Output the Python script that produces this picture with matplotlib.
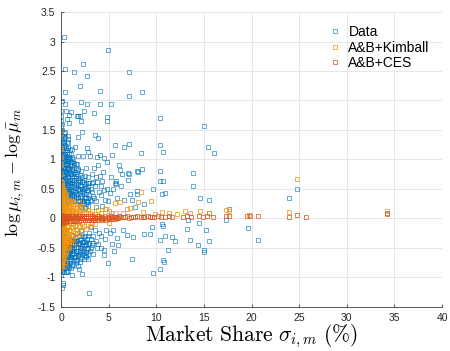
import matplotlib
matplotlib.use("Agg")
import matplotlib.pyplot as plt
import numpy as np

plt.rcParams['mathtext.fontset'] = 'cm'
plt.rcParams['font.family'] = ['Liberation Sans', 'DejaVu Sans']

# ---------------- data ----------------
# Data series: dense bar at near-zero market share (x, list of y)
data_bar_x = [0.03, 0.12, 0.22]
data_bar_y = [
    [-0.95, -0.88, -0.8, -0.72, -0.65, -0.58, -0.5, -0.43, -0.36, -0.28, -0.2, -0.12, -0.05,
     0.05, 0.12, 0.2, 0.27, 0.35, 0.42, 0.5, 0.57, 0.64, 0.72, 0.8, 0.87, 0.95, 1.02, 1.1,
     1.18, 1.25, 1.33, 1.4, 1.48, 1.56, 1.65, 1.74, 1.83],
    [-0.9, -0.82, -0.74, -0.66, -0.58, -0.5, -0.42, -0.34, -0.26, -0.18, -0.1, 0.1, 0.18, 0.26,
     0.34, 0.42, 0.5, 0.58, 0.66, 0.74, 0.82, 0.9, 0.98, 1.06, 1.14, 1.22, 1.3, 1.4, 1.5, 1.6],
    [-0.85, -0.75, -0.65, -0.55, -0.45, -0.35, -0.25, -0.15, 0.15, 0.25, 0.35, 0.45, 0.55, 0.65,
     0.75, 0.85, 0.95, 1.05, 1.15, 1.28, 1.4],
]
# Data series: fan of points for shares 0.3-6 %
data_fan = [
    (0.36, -0.82), (0.33, -0.7), (0.38, -0.58), (0.34, -0.46), (0.37, -0.34), (0.32, -0.22),
    (0.35, 0.2), (0.38, 0.32), (0.33, 0.44), (0.36, 0.56), (0.39, 0.68), (0.34, 0.8),
    (0.37, 0.92), (0.33, 1.04), (0.38, 1.16), (0.35, 1.3),
    (0.5, -0.78), (0.47, -0.64), (0.53, -0.5), (0.49, -0.36), (0.52, -0.24), (0.48, 0.22),
    (0.54, 0.36), (0.5, 0.5), (0.46, 0.64), (0.53, 0.78), (0.49, 0.92), (0.55, 1.06), (0.51, 1.2),
    (0.66, -0.8), (0.63, -0.62), (0.68, -0.46), (0.64, -0.32), (0.67, 0.28), (0.62, 0.42),
    (0.69, 0.56), (0.65, 0.7), (0.61, 0.84), (0.68, 0.98), (0.64, 1.12),
    (0.8, -0.72), (0.83, -0.55), (0.78, -0.38), (0.82, 0.3), (0.79, 0.46), (0.84, 0.62),
    (0.8, 0.78), (0.77, 0.94), (0.83, 1.1),
    (0.95, -0.75), (0.98, -0.6), (0.93, -0.42), (0.97, 0.35), (0.94, 0.5), (0.99, 0.66),
    (0.96, 0.82), (0.92, 1.0),
    (1.1, -0.7), (1.13, -0.52), (1.08, -0.36), (1.12, 0.38), (1.07, 0.55), (1.14, 0.72), (1.1, 0.9),
    (1.3, -0.78), (1.27, -0.6), (1.33, -0.45), (1.29, -0.3), (1.32, 0.32), (1.26, 0.48),
    (1.34, 0.65), (1.3, 0.82), (1.28, 1.0),
    (1.5, -0.65), (1.53, -0.48), (1.47, -0.33), (1.52, 0.3), (1.48, 0.45), (1.54, 0.6), (1.5, 0.78),
    (1.7, -0.72), (1.67, -0.55), (1.73, -0.38), (1.69, -0.25), (1.72, 0.25), (1.66, 0.42),
    (1.74, 0.58), (1.7, 0.75), (1.68, 0.92),
    (1.9, -0.6), (1.93, -0.42), (1.88, -0.3), (1.92, 0.3), (1.87, 0.5), (1.94, 0.68),
    (2.1, -0.68), (2.13, -0.5), (2.07, -0.35), (2.12, -0.2), (2.08, 0.2), (2.14, 0.38),
    (2.1, 0.55), (2.06, 0.8),
    (2.3, -0.55), (2.34, -0.4), (2.28, 0.25), (2.32, 0.45), (2.27, 0.62),
    (2.5, -0.62), (2.53, -0.45), (2.47, -0.3), (2.52, 0.18), (2.48, 0.35), (2.54, 0.52), (2.5, 0.72),
    (2.7, -0.5), (2.74, -0.35), (2.68, 0.3), (2.72, 0.48), (2.66, 0.85),
    (2.9, -0.42), (2.94, -0.25), (2.88, 0.22), (2.92, 0.4), (2.96, 0.6),
    (3.3, 0.75), (3.6, 0.55), (4.0, 0.45), (3.2, 0.45), (4.4, 0.78), (3.9, 0.9), (3.5, 0.85),
    (4.8, 0.5), (3.7, 0.2), (4.3, 0.22), (4.0, -0.25), (3.4, -0.3), (4.7, -0.2), (3.1, -0.15),
    (3.2, 0.6), (3.5, 0.35), (3.8, 0.62), (4.1, 0.72), (4.5, 0.48), (4.9, 0.3), (5.2, 0.7),
    (5.5, 0.5), (5.9, 0.35), (6.3, 0.55), (3.3, -0.45), (3.6, -0.2), (4.2, -0.5),
    (4.6, -0.35), (5.1, -0.25), (5.6, -0.55), (6.0, -0.45), (6.5, -0.2),
]
# Data series: extra fill of the fan (x, list of y)
data_fill_x = [0.28, 0.43, 0.58, 0.73, 0.88, 1.03, 1.2, 1.4, 1.6, 1.8, 2.0, 2.2, 2.4, 2.6,
               2.8, 3.1, 3.4, 3.7, 4.2,
               0.31, 0.46, 0.61, 0.76, 0.91, 1.16, 1.35, 1.56, 1.75, 1.97, 2.18, 2.44, 2.65,
               2.85]
data_fill_y = [
    [-0.78, -0.62, -0.48, -0.3, 0.28, 0.5, 0.72, 0.98, 1.22, 1.45],
    [-0.74, -0.52, -0.4, 0.28, 0.5, 0.74, 0.86, 1.1, 1.38],
    [-0.7, -0.56, -0.4, 0.3, 0.46, 0.6, 0.86, 1.0, 1.3],
    [-0.66, -0.52, 0.36, 0.5, 0.64, 0.9, 1.05, 1.2],
    [-0.82, -0.64, -0.48, 0.38, 0.54, 0.7, 0.86, 1.02],
    [-0.84, -0.66, -0.5, 0.3, 0.46, 0.6, 0.76, 0.95, 1.1],
    [-0.62, -0.44, 0.3, 0.46, 0.62, 0.8, 0.96],
    [-0.7, -0.55, -0.38, 0.36, 0.55, 0.7, 0.9],
    [-0.76, -0.58, -0.42, 0.36, 0.52, 0.68, 0.86],
    [-0.64, -0.48, 0.34, 0.48, 0.62, 0.82],
    [-0.74, -0.56, -0.42, 0.3, 0.46, 0.64],
    [-0.6, -0.45, -0.3, 0.3, 0.5, 0.7],
    [-0.68, -0.5, -0.32, 0.3, 0.42, 0.58],
    [-0.56, -0.4, 0.25, 0.42, 0.6],
    [-0.6, -0.44, -0.3, 0.35, 0.55, 0.7],
    [-0.5, -0.35, 0.3, 0.5],
    [-0.6, -0.42, 0.38, 0.62],
    [-0.38, 0.3, 0.7],
    [-0.3, 0.4, 0.55],
    [-0.9, -0.56, -0.4, 0.36, 0.6, 0.84, 1.1, 1.36],
    [-0.84, -0.58, -0.3, 0.4, 0.58, 0.8, 1.0, 1.24, 1.46],
    [-0.9, -0.75, -0.52, 0.36, 0.52, 0.76, 0.92, 1.16],
    [-0.78, -0.6, -0.44, 0.4, 0.56, 0.72, 0.84, 1.0, 1.28],
    [-0.68, -0.52, -0.36, 0.44, 0.6, 0.76, 0.92, 1.16],
    [-0.8, -0.58, -0.42, 0.42, 0.66, 0.84, 1.04, 1.18],
    [-0.66, -0.5, -0.36, 0.4, 0.58, 0.76, 0.94],
    [-0.7, -0.55, -0.38, 0.4, 0.56, 0.72, 0.92],
    [-0.62, -0.44, 0.3, 0.5, 0.66, 0.84],
    [-0.66, -0.5, -0.36, 0.36, 0.56, 0.74],
    [-0.54, -0.4, 0.34, 0.46, 0.62],
    [-0.58, -0.4, 0.26, 0.5, 0.66],
    [-0.66, -0.44, 0.36, 0.52],
    [-0.52, 0.28, 0.48],
]
# Data series: scattered points
data_sparse = [
    (0.35, 3.08), (4.9, 2.85), (0.42, 2.54), (2.28, 2.62), (1.37, 2.48), (2.73, 2.41),
    (7.1, 2.48), (2.03, 2.24), (0.42, 2.14), (4.1, 2.16), (8.47, 2.14), (7.1, 2.07),
    (2.05, 1.98), (2.75, 1.94), (4.1, 1.94), (5.25, 1.94), (0.1, 1.99), (0.42, 1.94),
    (0.56, 1.82), (1.1, 1.81), (2.4, 1.83), (3.47, 1.78), (1.65, 1.73), (1.8, 1.73),
    (1.95, 1.73), (0.87, 1.75), (0.6, 1.69), (0.85, 1.62), (4.85, 1.72), (4.8, 1.66),
    (10.37, 1.7), (2.1, 1.65), (15.0, 1.56), (2.17, 1.46), (1.82, 1.38), (3.57, 1.42),
    (3.85, 1.37), (0.77, 1.4), (0.77, 1.34), (5.67, 1.25), (6.62, 1.21), (7.12, 1.26),
    (10.35, 1.25), (10.72, 1.12), (8.44, 1.11), (15.4, 1.21), (16.07, 1.11), (1.45, 1.21),
    (2.77, 1.2), (2.87, 1.13), (1.75, 1.06), (2.3, 1.06), (3.05, 1.06), (3.75, 1.05),
    (4.1, 1.08), (4.5, 1.03), (5.32, 1.07), (4.87, 0.95), (6.1, 0.9), (6.2, 0.82),
    (7.07, 0.77), (7.95, 0.8), (8.47, 0.84), (10.44, 0.8), (13.85, 0.77),
    (6.37, 0.76), (7.14, 0.75), (8.05, 0.78), (5.67, 0.6), (4.27, 0.64), (2.87, 0.6),
    (7.25, 0.42), (7.95, 0.42), (9.7, 0.5), (10.9, 0.44), (3.05, 0.32), (7.0, 0.66),
    (5.77, 0.59), (8.0, 0.46), (8.75, 0.24), (7.77, 0.2), (6.6, 0.32), (7.4, 0.32),
    (4.6, 0.32), (5.15, 0.44), (14.6, 0.35), (15.5, 0.32), (13.83, 0.55), (10.75, 0.64),
    (5.8, 0.64), (10.4, 0.64), (10.6, 0.42), (23.95, 0.35), (24.75, 0.5), (17.65, 0.16),
    (17.3, -0.03), (15.5, 0.1), (14.5, -0.07), (13.3, -0.03), (10.57, -0.1), (10.7, -0.13),
    (13.2, -0.17), (15.2, -0.2), (19.6, -0.16), (10.9, -0.3), (11.6, -0.32), (12.0, -0.38),
    (13.55, -0.36), (15.5, -0.38), (20.66, -0.37), (14.4, -0.45), (15.0, -0.53),
    (15.0, -0.57), (11.2, -0.53), (10.75, -0.71), (10.8, -0.74), (10.4, -0.85), (34.2, 0.1),
    (8.75, -0.26), (9.3, -0.27), (9.5, -0.15), (10.4, -0.36), (9.63, -0.93), (7.5, -0.69),
    (4.9, -0.75), (2.98, -1.26), (5.5, -0.2), (5.85, -0.33), (6.9, -0.28), (7.6, -0.31),
    (5.3, -0.44), (3.85, -0.44), (3.75, -0.5), (4.5, -0.53), (3.05, -0.55), (2.6, -0.64),
    (4.55, -0.62), (2.87, -0.69), (1.82, -0.81), (1.12, -0.95), (2.17, -0.94), (1.9, -0.86),
    (0.25, -1.09), (0.14, -1.18), (0.77, -0.89), (0.6, -0.81), (0.5, -0.9), (0.2, -1.13),
]

# A&B+Kimball series: dense part (x, list of y)
kim_bar_x = [0.02, 0.06, 0.1, 0.15, 0.2, 0.27, 0.42, 0.57, 0.72, 0.88, 1.08, 1.3, 1.55,
             1.85, 2.2, 2.6, 3.0, 3.6, 4.2, 5.0, 5.8]
kim_bar_y = [
    [-0.85, -0.78, -0.7, -0.62, -0.55, -0.48, -0.41, -0.34, -0.27, -0.2, -0.13, -0.07, 0.07,
     0.13, 0.2, 0.27, 0.34, 0.41, 0.48, 0.55, 0.62, 0.75, 0.9, 1.05, 1.2, 1.45],
    [-0.8, -0.66, -0.52, -0.38, -0.24, -0.1, 0.1, 0.24, 0.38, 0.5],
    [-0.78, -0.72, -0.62, -0.52, -0.42, -0.32, -0.22, -0.12, 0.12, 0.22, 0.32, 0.42, 0.52, 0.6],
    [-0.75, -0.6, -0.46, -0.3, -0.16, 0.16, 0.3, 0.46, 0.56],
    [-0.7, -0.58, -0.46, -0.34, -0.22, -0.1, 0.1, 0.22, 0.34, 0.46],
    [-0.66, -0.52, -0.4, -0.28, -0.16, 0.16, 0.28, 0.4, 0.5],
    [-0.6, -0.46, -0.34, -0.2, -0.08, 0.08, 0.2, 0.34, 0.44],
    [-0.56, -0.44, -0.32, -0.2, -0.08, 0.08, 0.2, 0.34, 0.42],
    [-0.5, -0.38, -0.26, -0.12, 0.1, 0.2, 0.32],
    [-0.46, -0.32, -0.2, -0.08, 0.08, 0.18, 0.3],
    [-0.4, -0.28, -0.15, 0.08, 0.18, 0.28],
    [-0.36, -0.22, -0.1, 0.08, 0.18, 0.3],
    [-0.3, -0.18, 0.08, 0.18],
    [-0.28, -0.12, 0.08, 0.16, 0.28],
    [-0.22, -0.1, 0.08, 0.18],
    [-0.18, 0.1, 0.2],
    [-0.12, 0.1],
    [-0.1, 0.08],
    [0.1],
    [0.12, -0.08],
    [0.1],
]
kim_pts = [
    (0.35, -0.62), (0.33, -0.5), (0.37, -0.38), (0.34, -0.26), (0.36, -0.14), (0.35, 0.14),
    (0.33, 0.26), (0.37, 0.38), (0.3, -0.8), (0.45, -0.74),
    (0.5, -0.55), (0.48, -0.42), (0.52, -0.3), (0.5, -0.17), (0.49, 0.17), (0.52, 0.3),
    (0.65, -0.5), (0.63, -0.36), (0.67, -0.22), (0.65, 0.12), (0.63, 0.25),
    (0.8, -0.4), (0.82, -0.27), (0.78, -0.14), (0.8, 0.12), (0.83, 0.22),
    (1.0, -0.35), (0.97, -0.22), (1.02, 0.1), (0.98, 0.2), (1.01, 0.3),
    (1.2, -0.28), (1.22, -0.15), (1.18, 0.12), (1.21, 0.22),
    (1.45, -0.25), (1.43, -0.12), (1.47, 0.1), (1.44, 0.25),
    (1.7, -0.2), (1.72, 0.12), (1.68, 0.2), (2.0, -0.15), (2.03, 0.1), (1.98, 0.22),
    (2.4, -0.12), (2.38, 0.1), (2.8, -0.1), (2.82, 0.15), (3.2, 0.12), (3.25, -0.08),
    (3.9, 0.15), (4.6, 0.16), (5.67, 0.27), (6.2, 0.28), (8.4, 0.45), (8.05, 0.28),
    (9.4, 0.3), (6.9, 0.16), (7.25, 0.18), (4.7, 0.16), (8.65, 0.11), (10.6, 0.11),
    (11.3, 0.1), (13.5, 0.1), (14.6, 0.12), (15.5, 0.1), (13.0, 0.12), (12.2, 0.08),
    (17.6, 0.12), (17.3, 0.15), (19.7, 0.06), (23.95, 0.11), (24.75, 0.67), (34.2, 0.12),
    (9.9, 0.08), (5.2, 0.1), (6.5, 0.1),
]

# A&B+CES series
ces_x = [0.02, 0.08, 0.15, 0.22, 0.3, 0.4, 0.5, 0.6, 0.72, 0.85, 1.0, 1.15, 1.3, 1.45, 1.6,
         1.8, 2.0, 2.2, 2.4, 2.6, 2.8, 3.0, 3.25, 3.5, 3.75, 4.0, 4.3, 4.6, 4.9, 5.2, 5.5, 5.8,
         6.1, 6.5, 6.9, 7.3, 7.6, 8.0, 8.4, 8.7, 9.1, 9.5, 9.8, 10.2, 10.5, 10.9, 11.3, 11.7,
         12.8, 13.2, 13.6, 14.5, 14.9, 15.3, 16.0, 17.3, 17.6, 19.5, 19.8, 20.7, 23.95, 24.75,
         25.67, 34.2]
ces_y_hi = [0.05, 0.06, 0.05, 0.05, 0.05, 0.04, 0.05, 0.04, 0.04, 0.05, 0.04, 0.04, 0.05, 0.04,
            0.04, 0.05, 0.04, 0.04, 0.04, 0.05, 0.04, 0.04, 0.04, 0.03, 0.04, 0.04, 0.03, 0.04,
            0.03, 0.04, 0.03, 0.03, 0.04, 0.03, 0.04, 0.03, 0.03, 0.04, 0.03, 0.03, 0.04, 0.03,
            0.02, 0.04, 0.03, 0.03, 0.04, 0.03, 0.03, 0.04, 0.03, 0.04, 0.03, 0.04, 0.03, 0.05,
            0.04, 0.05, 0.05, 0.04, 0.02, 0.06, 0.02, 0.08]
ces_x_mid = [0.05, 0.13, 0.19, 0.27, 0.36, 0.46, 0.57, 0.68, 0.78, 0.92, 1.05, 1.2, 1.35,
             1.5, 1.65, 1.85, 2.05, 2.25, 2.45, 2.65, 2.85, 3.05, 3.3, 3.55, 3.8, 4.05, 4.35,
             4.65, 4.95, 5.25, 5.55, 5.85, 6.2, 6.7, 7.1, 7.8, 8.6, 9.3]
ces_y_mid = [0.0, 0.01, 0.0, -0.01, 0.0, 0.01, 0.0, 0.0, 0.01, 0.0, 0.0, 0.01, 0.0, 0.01,
             0.0, 0.01, 0.0, 0.01, 0.01, 0.0, 0.01, 0.01, 0.0, 0.01, 0.01, 0.01, 0.0, 0.01,
             0.01, 0.01, 0.02, 0.01, 0.02, 0.02, 0.01, 0.02, 0.02, 0.02]
ces_x_lo = [0.03, 0.1, 0.18, 0.26, 0.35, 0.45, 0.55, 0.66, 0.8, 0.95, 1.1, 1.25, 1.4, 1.55,
            1.7, 1.9, 2.1, 2.3, 2.5, 2.7, 2.9, 3.1, 3.4, 3.6, 3.9, 4.15, 4.45, 4.75, 5.05,
            5.35, 5.65, 5.95]
ces_y_lo = [-0.07, -0.06, -0.07, -0.06, -0.05, -0.06, -0.05, -0.05, -0.04, -0.05, -0.04,
            -0.04, -0.04, -0.04, -0.03, -0.04, -0.03, -0.03, -0.03, -0.03, -0.02, -0.03,
            -0.02, -0.02, -0.02, -0.02, -0.01, -0.02, -0.01, -0.01, -0.01, 0.0]

xticks = [0, 5, 10, 15, 20, 25, 30, 35, 40]
yticks = [-1.5, -1, -0.5, 0, 0.5, 1, 1.5, 2, 2.5, 3, 3.5]
ytick_labels = ['-1.5', '-1', '-0.5', '0', '0.5', '1', '1.5', '2', '2.5', '3', '3.5']
legend_labels = ['Data', 'A&B+Kimball', 'A&B+CES']

# ---------------- assemble ----------------
def expand(xs, yss):
    px = [x for x, ys in zip(xs, yss) for _ in ys]
    py = [y for ys in yss for y in ys]
    return px, py

dx, dy = expand(data_bar_x, data_bar_y)
fx, fy = expand(data_fill_x, data_fill_y)
dx += fx + [p[0] for p in data_fan + data_sparse]
dy += fy + [p[1] for p in data_fan + data_sparse]

kx, ky = expand(kim_bar_x, kim_bar_y)
kx += [p[0] for p in kim_pts]
ky += [p[1] for p in kim_pts]

cx = ces_x + ces_x_mid + ces_x_lo
cy = ces_y_hi + ces_y_mid + ces_y_lo

c_data = (0.0, 0.447, 0.741, 0.7)
c_kim = (0.95, 0.58, 0.05, 0.85)
c_ces = (0.85, 0.33, 0.10, 0.85)

fig = plt.figure(figsize=(4.5, 3.51), dpi=100)
ax = fig.add_axes([0.1356, 0.1254, 0.8467, 0.8404])

ms = 3.0
mew = 0.6
h1, = ax.plot(dx, dy, 's', ms=ms, mfc='none', mec=c_data, mew=mew, label=legend_labels[0])
h2, = ax.plot(kx, ky, 's', ms=ms, mfc='none', mec=c_kim, mew=mew, label=legend_labels[1])
h3, = ax.plot(cx, cy, 's', ms=ms, mfc='none', mec=c_ces, mew=mew, label=legend_labels[2])

ax.set_xlim(0, 40)
ax.set_ylim(-1.5, 3.5)
ax.set_xticks(xticks)
ax.set_yticks(yticks)
ax.set_yticklabels(ytick_labels)
ax.grid(True, color='#e3e3e3', linewidth=0.6)
ax.set_axisbelow(True)
for s in ['top', 'right']:
    ax.spines[s].set_visible(False)
for s in ['left', 'bottom']:
    ax.spines[s].set_color('#404040')
    ax.spines[s].set_linewidth(0.6)
ax.tick_params(direction='in', length=2.5, width=0.6, color='#404040',
               labelsize=7.5, labelcolor='#262626', pad=4)

ax.set_xlabel(r'$\mathrm{Market\ Share}\ \sigma_{i,m}\ (\%)$', fontsize=15.5, labelpad=0)
ax.set_ylabel(r'$\log\mu_{i,m}-\log\bar{\mu}_m$', fontsize=13)
ax.yaxis.set_label_coords(-0.092, 0.455)

leg = ax.legend(handles=[h1, h2, h3], loc='upper left', bbox_to_anchor=(0.685, 0.975),
                frameon=False, fontsize=10, handlelength=1.0, handletextpad=0.5,
                labelspacing=0.12, borderaxespad=0.0, markerscale=1.0)

fig.savefig('out.png', dpi=100)
